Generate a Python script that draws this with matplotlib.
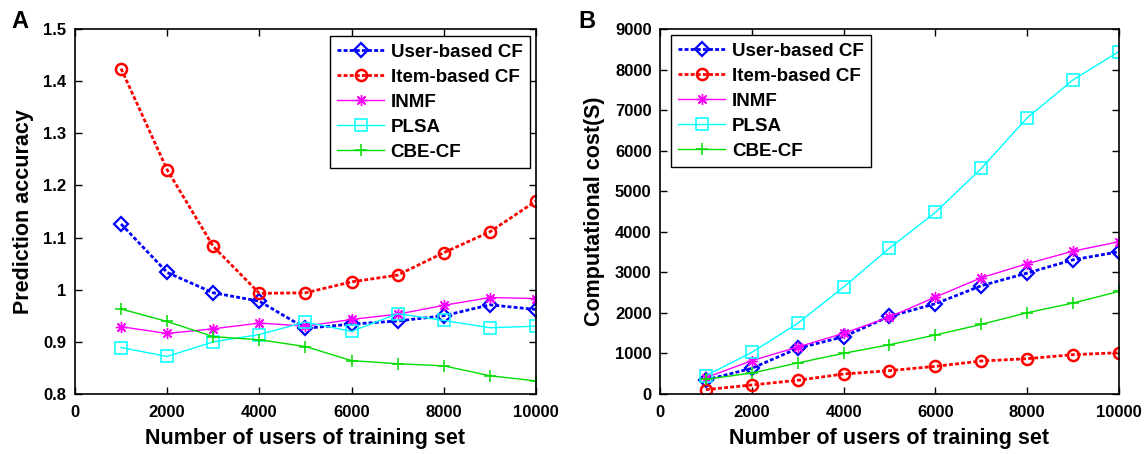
import numpy as np
import matplotlib.pyplot as plt

plt.rcParams['font.family'] = ['Liberation Sans', 'DejaVu Sans']
plt.rcParams['font.weight'] = 'bold'

n_users = [1000, 2000, 3000, 4000, 5000, 6000, 7000, 8000, 9000, 10000]
labels = ['User-based CF', 'Item-based CF', 'INMF', 'PLSA', 'CBE-CF']

# panel A: prediction accuracy
acc_user = [1.126, 1.033, 0.994, 0.978, 0.926, 0.934, 0.940, 0.950, 0.971, 0.962]
acc_item = [1.424, 1.230, 1.083, 0.993, 0.994, 1.015, 1.028, 1.071, 1.111, 1.170]
acc_inmf = [0.929, 0.916, 0.925, 0.936, 0.930, 0.943, 0.953, 0.970, 0.985, 0.983]
acc_plsa = [0.889, 0.872, 0.900, 0.914, 0.938, 0.920, 0.954, 0.941, 0.927, 0.930]
acc_cbe = [0.963, 0.939, 0.910, 0.904, 0.891, 0.864, 0.858, 0.854, 0.835, 0.825]

# panel B: computational cost
cost_user = [345, 632, 1125, 1412, 1913, 2225, 2669, 2981, 3309, 3507]
cost_item = [107, 222, 337, 493, 575, 682, 813, 870, 969, 1018]
cost_inmf = [402, 821, 1158, 1495, 1897, 2390, 2866, 3211, 3523, 3753]
cost_plsa = [452, 1026, 1741, 2636, 3597, 4475, 5560, 6808, 7744, 8442]
cost_cbe = [361, 517, 764, 1002, 1215, 1453, 1716, 2004, 2242, 2529]

dots = (0, (1.4, 0.8))  # matlab-ish ':' line
styles = [
    dict(color='#0000ff', ls=dots, lw=2, marker='D', ms=7, mfc='none', mew=1.6),
    dict(color='#ff0000', ls=dots, lw=2, marker='o', ms=8, mfc='none', mew=1.8),
    dict(color='#ff00ff', ls='-', lw=1, marker=(8, 2, 0), ms=8, mew=1),
    dict(color='#00ffff', ls='-', lw=1, marker='s', ms=8, mfc='none', mew=1.1),
    dict(color='#00dd00', ls='-', lw=1, marker='+', ms=9, mew=1.1),
]
leg_kw = dict(fontsize=13.5, fancybox=False, edgecolor='black', framealpha=1,
              handlelength=2.5, handletextpad=0.35, borderpad=0.4,
              labelspacing=0.42, borderaxespad=0)

fig = plt.figure(figsize=(11.46, 4.54), dpi=100)
axA = fig.add_axes([0.0654, 0.1322, 0.4023, 0.8040])
axB = fig.add_axes([0.5759, 0.1322, 0.4005, 0.8040])

for ax, series in [(axA, [acc_user, acc_item, acc_inmf, acc_plsa, acc_cbe]),
                   (axB, [cost_user, cost_item, cost_inmf, cost_plsa, cost_cbe])]:
    for vals, lab, st in zip(series, labels, styles):
        ax.plot(n_users, vals, label=lab, **st)
    ax.set_xlim(0, 10000)
    ax.set_xticks(np.arange(0, 10001, 2000))
    ax.tick_params(direction='in', top=True, right=True, labelsize=12, length=5, width=1)
    ax.tick_params(axis='x', pad=8)
    ax.tick_params(axis='y', pad=6)
    for s in ax.spines.values():
        s.set_linewidth(1.2)
    ax.set_xlabel('Number of users of training set', fontsize=15.5, fontweight='bold', labelpad=6)

axA.set_ylim(0.8, 1.5)
axA.set_yticks([0.8, 0.9, 1.0, 1.1, 1.2, 1.3, 1.4, 1.5])
axA.set_yticklabels(['0.8', '0.9', '1', '1.1', '1.2', '1.3', '1.4', '1.5'])
axA.set_ylabel('Prediction accuracy', fontsize=15.5, fontweight='bold', labelpad=7)
axA.legend(loc='upper right', bbox_to_anchor=(0.987, 0.981), **leg_kw)

axB.set_ylim(0, 9000)
axB.set_yticks(np.arange(0, 9001, 1000))
axB.set_ylabel('Computational cost(S)', fontsize=15.5, fontweight='bold', labelpad=7)
axB.legend(loc='upper left', bbox_to_anchor=(0.024, 0.9825), **leg_kw)

fig.text(0.010, 0.938, 'A', fontsize=17, fontweight='bold')
fig.text(0.505, 0.938, 'B', fontsize=17, fontweight='bold')

fig.savefig('out.png', dpi=100)
